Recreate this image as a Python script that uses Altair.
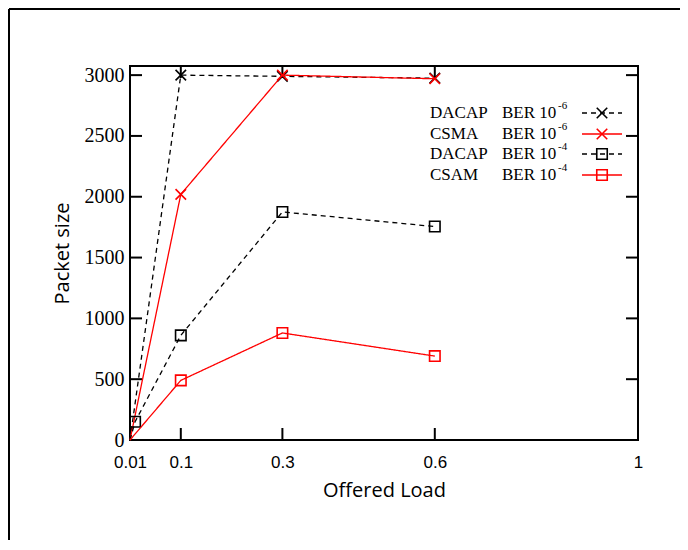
import altair as alt
import pandas as pd

# ---- data ----
loads = [0.0, 0.1, 0.3, 0.6]
dacap_1e6 = [0, 3000, 2990, 2975]
csma_1e6 = [0, 2020, 3000, 2970]
dacap_1e4_x = [0.0, 0.01, 0.1, 0.3, 0.6]
dacap_1e4 = [0, 150, 860, 1875, 1755]
csam_1e4 = [0, 490, 880, 690]

x_ticks = [0, 0.1, 0.3, 0.6, 1]
y_ticks = [0, 500, 1000, 1500, 2000, 2500, 3000]

W, H = 508, 374
xs = alt.Scale(domain=[0, 1], nice=False, zero=False)
ys = alt.Scale(domain=[0, 3075], nice=False)

X_SHAPE = "M-1,-1L1,1M-1,1L1,-1"

series = [
    ("DACAP", "-6", dict(zip(loads, dacap_1e6)), "black", [5, 4], X_SHAPE),
    ("CSMA", "-6", dict(zip(loads, csma_1e6)), "#ff0000", [1, 0], X_SHAPE),
    ("DACAP", "-4", dict(zip(dacap_1e4_x, dacap_1e4)), "black", [5, 4], "square"),
    ("CSAM", "-4", dict(zip(loads, csam_1e4)), "#ff0000", [1, 0], "square"),
]

layers = []
one = pd.DataFrame({"a": [0]})

# plot frame
layers.append(alt.Chart(one).mark_rect(fill=None, stroke="black", strokeWidth=2).encode(
    x=alt.value(0), x2=alt.value(W), y=alt.value(0), y2=alt.value(H)))

# inward tick marks (gnuplot style) on all four sides
tdf_y = pd.DataFrame({"v": y_ticks[1:]})
tdf_x = pd.DataFrame({"v": x_ticks[1:4]})
for x0, x1 in [(0, 12), (W - 12, W)]:
    layers.append(alt.Chart(tdf_y).mark_rule(color="black", strokeWidth=2).encode(
        y=alt.Y("v:Q", scale=ys), x=alt.value(x0), x2=alt.value(x1)))
for y0, y1 in [(H, H - 12), (0, 12)]:
    layers.append(alt.Chart(tdf_x).mark_rule(color="black", strokeWidth=2).encode(
        x=alt.X("v:Q", scale=xs), y=alt.value(y0), y2=alt.value(y1)))

# axes (labels and titles only)
axis_df = pd.DataFrame({"x": [0.0], "y": [0.0]})
layers.append(alt.Chart(axis_df).mark_point(opacity=0).encode(
    x=alt.X("x:Q", scale=xs, title="Offered Load",
            axis=alt.Axis(values=x_ticks, ticks=False, domain=False, grid=False, labelFlush=False,
                          labelExpr="datum.value == 0 ? '0.01' : format(datum.value, '')",
                          labelFont="Liberation Sans", labelFontSize=17, labelPadding=14,
                          labelColor="black", titleFont="Open Sans", titleFontSize=20,
                          titleFontWeight="normal", titleColor="black", titlePadding=10)),
    y=alt.Y("y:Q", scale=ys, title="Packet size",
            axis=alt.Axis(values=y_ticks, ticks=False, domain=False, grid=False, labelFlush=False,
                          format="d",
                          labelFont="Liberation Serif", labelFontSize=20, labelPadding=6,
                          labelColor="black", titleFont="Open Sans", titleFontSize=20,
                          titleFontWeight="normal", titleColor="black", titlePadding=12)),
))

# series lines and markers
for name, sup, d, color, dash, shape in series:
    df = pd.DataFrame({"x": list(d.keys()), "y": list(d.values())})
    layers.append(alt.Chart(df).mark_line(color=color, strokeWidth=1.3, strokeDash=dash).encode(
        x=alt.X("x:Q", scale=xs), y=alt.Y("y:Q", scale=ys)))
    layers.append(alt.Chart(df[df.x > 0]).mark_point(
        shape=shape, color=color, filled=False, size=110, strokeWidth=1.6, opacity=1).encode(
        x=alt.X("x:Q", scale=xs), y=alt.Y("y:Q", scale=ys)))

# legend
row_y = [47, 68, 88, 109]
for (name, sup, d, color, dash, shape), ry in zip(series, row_y):
    tstyle = dict(font="Liberation Serif", fontSize=17, color="black", align="left", baseline="middle")
    layers.append(alt.Chart(one).mark_text(text=name, **tstyle).encode(x=alt.value(300), y=alt.value(ry)))
    layers.append(alt.Chart(one).mark_text(text="BER 10", **tstyle).encode(x=alt.value(372), y=alt.value(ry)))
    layers.append(alt.Chart(one).mark_text(text=sup, font="Liberation Serif", fontSize=11, color="black",
                                           align="left", baseline="middle").encode(
        x=alt.value(428), y=alt.value(ry - 7)))
    layers.append(alt.Chart(one).mark_rule(color=color, strokeWidth=1.3, strokeDash=dash).encode(
        x=alt.value(452), x2=alt.value(492), y=alt.value(ry)))
    layers.append(alt.Chart(one).mark_point(shape=shape, color=color, filled=False, size=110,
                                            strokeWidth=1.6, opacity=1).encode(
        x=alt.value(472), y=alt.value(ry)))

# outer frame (left and top edges visible in reference)
layers.append(alt.Chart(one).mark_rule(color="black", strokeWidth=2).encode(
    x=alt.value(-121), y=alt.value(-57), y2=alt.value(H + 100)))
layers.append(alt.Chart(one).mark_rule(color="black", strokeWidth=2).encode(
    x=alt.value(-121), x2=alt.value(W + 42), y=alt.value(-57)))

chart = alt.layer(*layers).properties(
    width=W, height=H,
    autosize=alt.AutoSizeParams(type="none"),
    padding={"left": 122, "top": 58, "right": 42, "bottom": 100},
).configure_view(stroke=None).configure(background="white")

chart.save("out.html", embed_options={"renderer": "svg", "actions": False})
